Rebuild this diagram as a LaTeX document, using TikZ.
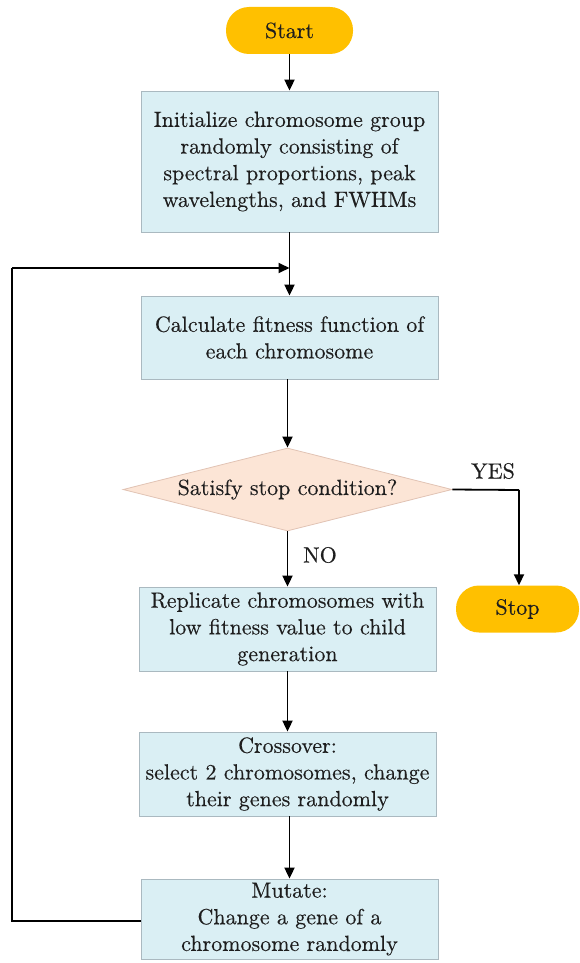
\documentclass[tikz,border=0pt]{standalone}
\usepackage{fontspec}
\setmainfont{lmroman10-regular.otf}[FakeBold=0.3]
\usetikzlibrary{shapes.geometric,arrows.meta}
\definecolor{boxfill}{RGB}{218,239,244}
\definecolor{boxline}{RGB}{170,185,192}
\definecolor{termfill}{RGB}{255,192,0}
\definecolor{decfill}{RGB}{252,229,214}
\definecolor{decline}{RGB}{225,195,180}
\definecolor{txt}{RGB}{30,30,30}
\newcommand{\txtfont}{\fontsize{22pt}{26.7pt}\selectfont}
\tikzset{
  procbox/.style={draw=boxline, line width=0.8pt, fill=boxfill, minimum width=297pt, inner sep=0pt, align=center, font=\txtfont, text=txt},
  termbox/.style={fill=termfill, rounded corners=23pt, inner sep=0pt, minimum height=47pt, font=\txtfont, text=txt},
  decbox/.style={diamond, draw=decline, line width=0.8pt, fill=decfill, inner sep=0pt, aspect=4, minimum width=329pt, minimum height=83pt, font=\txtfont, text=txt},
  conn/.style={line width=1.8pt, -{Triangle[width=10pt,length=11pt]}},
  lbl/.style={font=\txtfont, text=txt}
}
\begin{document}
\begin{tikzpicture}[x=1pt,y=-1pt]
\useasboundingbox (0,0) rectangle (579,963);
\node[termbox, minimum width=127pt] (start) at (289.5,30.5) {Start};
\node[procbox, minimum height=141pt] (init) at (289.5,161.5) {Initialize chromosome group\\randomly consisting of\\spectral proportions, peak\\wavelengths, and FWHMs};
\node[procbox, minimum height=83pt] (calc) at (289.5,337.5) {Calculate fitness function of\\each chromosome};
\node[decbox] (dec) at (287.5,489.5) {Satisfy stop condition?};
\node[procbox, minimum height=84pt] (rep) at (287.5,629) {Replicate chromosomes with\\low fitness value to child\\generation};
\node[procbox, minimum height=84pt] (cross) at (287.5,774) {Crossover:\\select 2 chromosomes, change\\their genes randomly};
\node[procbox, minimum height=80pt] (mut) at (289.5,919) {Mutate:\\Change a gene of a\\chromosome randomly};
\node[termbox, minimum width=123pt] (stop) at (517.5,609) {Stop};
\coordinate (join) at (289.5,268);
\coordinate (lefttop) at (12,268);
\coordinate (leftbot) at (12,921);
\coordinate (yescorner) at (519,490);
\node[lbl] (yes) at (493,471) {YES};
\node[lbl] (no) at (320,555) {NO};
\draw[conn] (start) -- (init);
\draw[conn] (init) -- (calc);
\draw[conn] (calc.south -| dec.north) -- (dec.north);
\draw[conn] (dec.south) -- (dec.south |- rep.north);
\draw[conn] (rep.south -| cross.north) -- (cross.north);
\draw[conn] (cross.south -| 289.5,0) -- (289.5,0 |- mut.north);
\draw[line width=1.8pt] (dec.east) -- (yescorner);
\draw[conn] (yescorner) -- (yescorner |- stop.north);
\draw[line width=1.8pt] (mut.west |- leftbot) -- (leftbot) -- (lefttop);
\draw[conn] (lefttop) -- (join);
\end{tikzpicture}
\end{document}
